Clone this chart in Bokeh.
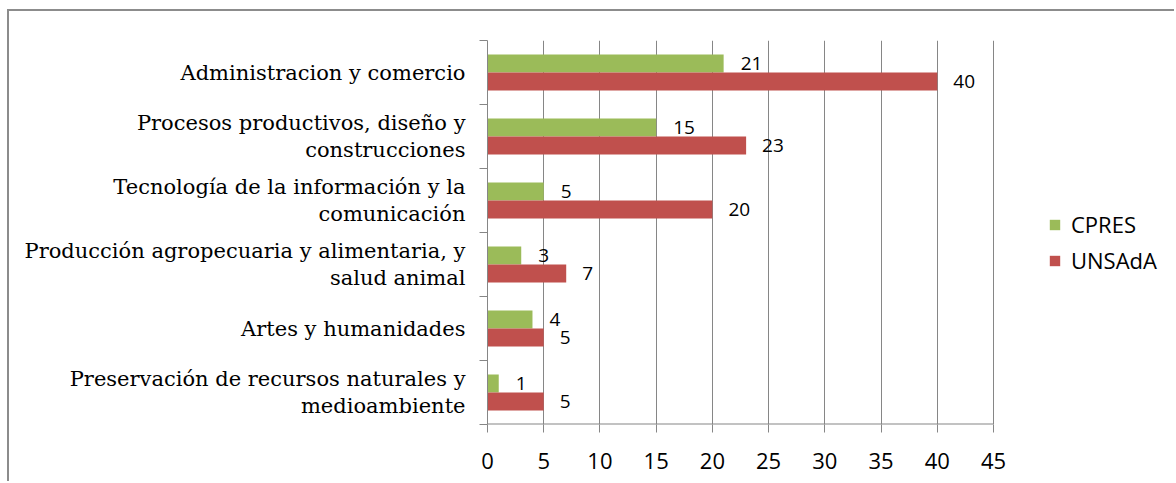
from bokeh.plotting import figure
from bokeh.models import (Range1d, FixedTicker, Legend, LegendItem, ColumnDataSource)
from bokeh.core.properties import value
from bokeh.embed import file_html
from bokeh.resources import INLINE

categories = [
    "Administracion y comercio",
    "Procesos productivos, diseño y\nconstrucciones",
    "Tecnología de la información y la\ncomunicación",
    "Producción agropecuaria y alimentaria, y\nsalud animal",
    "Artes y humanidades",
    "Preservación de recursos naturales y\nmedioambiente",
]
cpres = [21, 15, 5, 3, 4, 1]
unsada = [40, 23, 20, 7, 5, 5]
x_ticks = [0, 5, 10, 15, 20, 25, 30, 35, 40, 45]

GREEN = "#9BBB59"
RED = "#C0504D"
GRID = "#868686"

n = len(categories)
centers = [n - 0.5 - i for i in range(n)]   # top category at the top
h = 0.28

src = ColumnDataSource(dict(
    y_c=[c + h / 2 for c in centers], y_u=[c - h / 2 for c in centers],
    cpres=cpres, unsada=unsada,
    cpres_lbl=[str(v) for v in cpres], unsada_lbl=[str(v) for v in unsada]))

# layout geometry (pixels)
W, H = 1167, 472
LEFT, TOP, BOTTOM = 478, 29, 59
AXIS_PX = 506                      # width of the 0..45 scale
frame_w = W - LEFT
x_end = x_ticks[-1] * frame_w / AXIS_PX   # frame extends to the right edge (room for the legend)

p = figure(width=W, height=H, output_backend="svg", toolbar_location=None,
           y_range=Range1d(0, n), x_range=Range1d(0, x_end),
           min_border_left=LEFT, min_border_top=TOP, min_border_right=0, min_border_bottom=BOTTOM,
           title=None)
p.outline_line_color = None
p.background_fill_color = "white"
p.border_fill_color = "white"
p.styles = {"border-top": "2px solid #8c8c8c", "border-left": "2px solid #8c8c8c",
            "margin-left": "7px", "margin-top": "9px"}

# x axis
xa = p.xaxis[0]
xa.ticker = FixedTicker(ticks=x_ticks)
xa.axis_line_color = None
xa.major_tick_line_color = GRID
xa.major_tick_out = 8
xa.major_tick_in = 0
xa.minor_tick_line_color = None
xa.major_label_text_font = "Open Sans"
xa.major_label_text_font_size = "22px"
xa.major_label_text_color = "black"
xa.major_label_standoff = 20

p.xgrid.ticker = FixedTicker(ticks=x_ticks)
p.xgrid.grid_line_color = GRID
p.ygrid.grid_line_color = None

# horizontal axis line only over the value scale
p.segment(x0=[x_ticks[0]], y0=[0], x1=[x_ticks[-1]], y1=[0], line_color=GRID, line_width=2)

# y axis: labels at centres, tick marks at boundaries
ya = p.yaxis[0]
ya.ticker = FixedTicker(ticks=centers, minor_ticks=list(range(n + 1)))
ya.major_label_overrides = {c: lab for c, lab in zip(centers, categories)}
ya.axis_line_color = GRID
ya.major_tick_line_color = None
ya.major_tick_out = 0
ya.major_tick_in = 0
ya.minor_tick_line_color = GRID
ya.minor_tick_out = 8
ya.minor_tick_in = 0
ya.major_label_text_font = "DejaVu Serif"
ya.major_label_text_font_size = "21px"
ya.major_label_text_line_height = 1.1
ya.major_label_text_color = "black"
ya.major_label_standoff = 14

r1 = p.hbar(y="y_c", right="cpres", left=0, height=h,
            source=src, fill_color=GREEN, line_color=None)
r2 = p.hbar(y="y_u", right="unsada", left=0, height=h,
            source=src, fill_color=RED, line_color=None)

p.text(x="cpres", y="y_c", text="cpres_lbl", source=src,
       x_offset=17, text_baseline="middle", text_align="left",
       text_font=value("Open Sans"), text_font_size="19px", text_color="black")
p.text(x="unsada", y="y_u", text="unsada_lbl", source=src,
       x_offset=16, text_baseline="middle", text_align="left",
       text_font=value("Open Sans"), text_font_size="19px", text_color="black")

legend = Legend(items=[LegendItem(label="CPRES", renderers=[r1]),
                       LegendItem(label="UNSAdA", renderers=[r2])],
                location=(561, 149), orientation="vertical")
legend.border_line_color = None
legend.background_fill_alpha = 0
legend.margin = 0
legend.padding = 10
legend.glyph_width = 13
legend.glyph_height = 13
legend.label_standoff = 10
legend.spacing = 6
legend.label_text_font = "Open Sans"
legend.label_text_font_size = "22px"
legend.label_text_color = "black"
p.add_layout(legend, "center")

open("out.html", "w").write(file_html(p, INLINE))
